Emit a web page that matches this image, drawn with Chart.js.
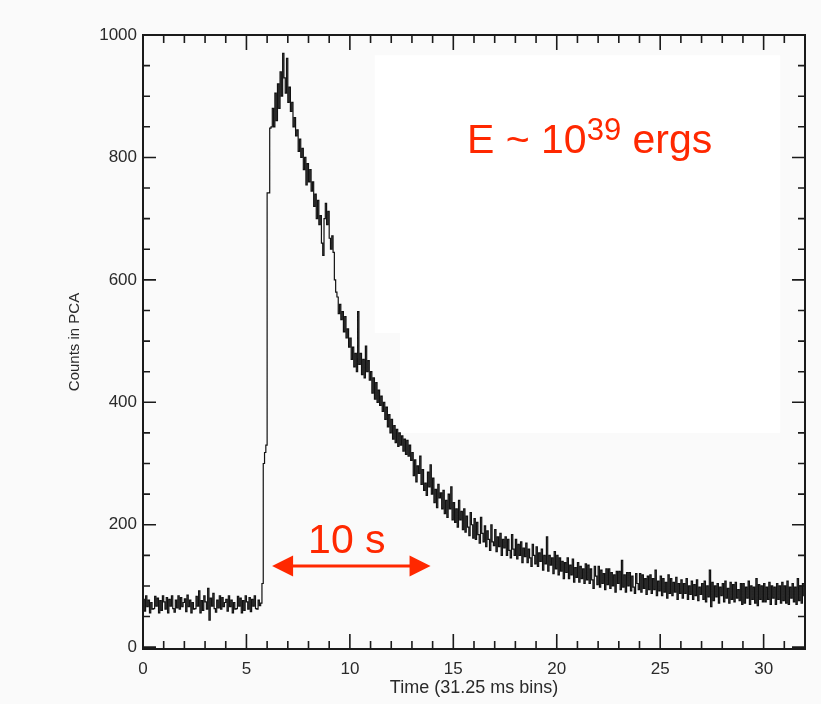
<!DOCTYPE html>
<html><head><meta charset="utf-8">
<style>
html,body{margin:0;padding:0;background:#fafafa;}
#wrap{width:821px;height:704px;position:relative;}
</style>
<script src="https://cdn.jsdelivr.net/npm/chart.js@4/dist/chart.umd.min.js"></script>
</head><body>
<div id="wrap"><canvas id="c" width="821" height="704"></canvas></div>
<script>
// bin width in seconds for the counts series
const binWidth = 0.0625;
const counts = [
  78, 59, 84, 66, 77, 56, 73, 62,
  63, 83, 67, 80, 56, 76, 60, 84,
  74, 62, 81, 56, 78, 67, 84, 63,
  57, 77, 64, 84, 62, 81, 66, 73,
  79, 58, 85, 66, 77, 56, 73, 62,
  63, 83, 67, 92, 56, 76, 60, 84,
  74, 62, 96, 44, 80, 67, 88, 63,
  57, 77, 64, 84, 62, 81, 66, 73,
  78, 59, 84, 66, 77, 56, 73, 62,
  63, 83, 67, 80, 56, 76, 60, 84,
  74, 62, 81, 58, 78, 67, 84, 63,
  62, 77, 68, 72, 104, 300, 318, 330,
  742, 742, 848, 850, 880, 850, 905, 860,
  920, 880, 940, 900, 970, 930, 905, 962,
  890, 915, 875, 890, 850, 865, 835, 845,
  810, 830, 800, 815, 780, 800, 755, 790,
  760, 780, 745, 760, 720, 740, 700, 730,
  690, 705, 660, 640, 700, 725, 690, 712,
  668, 650, 672, 645, 600, 580, 572, 545,
  560, 535, 548, 515, 540, 505, 520, 490,
  505, 470, 490, 458, 480, 450, 548, 462,
  480, 445, 470, 440, 492, 450, 468, 436,
  450, 415, 440, 405, 432, 400, 420, 395,
  410, 385, 400, 372, 392, 360, 380, 350,
  372, 340, 362, 334, 356, 328, 350, 330,
  345, 320, 340, 315, 338, 312, 330, 305,
  318, 280, 306, 270, 296, 284, 312, 266,
  290, 256, 268, 248, 286, 262, 298, 250,
  276, 236, 258, 228, 266, 244, 252, 226,
  256, 218, 240, 212, 250, 226, 262, 208,
  236, 204, 226, 196, 240, 208, 222, 192,
  226, 188, 214, 196, 182, 220, 200, 178,
  210, 176, 204, 184, 170, 212, 186, 172,
  198, 164, 190, 176, 158, 200, 172, 166,
  192, 156, 180, 164, 186, 150, 176, 162,
  180, 150, 176, 158, 146, 184, 160, 150,
  176, 144, 168, 150, 172, 138, 162, 148,
  170, 138, 160, 146, 132, 168, 150, 136,
  164, 132, 154, 140, 160, 126, 150, 136,
  180, 124, 150, 134, 146, 120, 156, 128,
  150, 118, 146, 124, 140, 112, 138, 122,
  146, 112, 134, 118, 144, 106, 130, 114,
  138, 106, 132, 112, 128, 104, 136, 110,
  134, 104, 128, 110, 96, 132, 116, 102,
  132, 98, 126, 104, 120, 94, 128, 102,
  128, 96, 122, 100, 118, 90, 124, 104,
  124, 94, 142, 98, 118, 90, 122, 100,
  122, 92, 116, 98, 88, 120, 104, 94,
  120, 90, 118, 96, 112, 86, 116, 94,
  118, 88, 112, 94, 126, 84, 108, 92,
  116, 84, 112, 90, 106, 80, 118, 88,
  112, 84, 106, 90, 114, 78, 104, 88,
  110, 80, 104, 88, 112, 78, 100, 86,
  108, 78, 102, 84, 110, 76, 98, 86,
  104, 78, 108, 74, 100, 82, 126, 66,
  106, 76, 100, 82, 104, 72, 98, 84,
  104, 74, 108, 80, 96, 72, 106, 78,
  102, 74, 106, 80, 94, 76, 104, 70,
  104, 72, 98, 80, 108, 70, 100, 78,
  98, 72, 112, 68, 102, 78, 100, 74,
  104, 74, 98, 78, 106, 70, 100, 80,
  98, 70, 104, 78, 100, 72, 106, 76,
  100, 72, 108, 70, 98, 80, 104, 74,
  98, 70, 112, 76, 100, 72, 104, 84
];
const xTickLabels = [0, 5, 10, 15, 20, 25, 30];
const yTickLabels = [0, 200, 400, 600, 800, 1000];
const xTitle = 'Time (31.25 ms bins)';
const yTitle = 'Counts in PCA';
const energyText = ['E ~ 10', '39', ' ergs'];
const durationText = '10 s';

// step points at bin start times + closing point at the end of the last bin
const points = counts.map((v, i) => ({x: i * binWidth, y: v}));
points.push({x: counts.length * binWidth, y: counts[counts.length - 1]});

const RED = 'rgb(255,40,0)';
const INK = '#1a1a1a';
const FONT = '"Liberation Sans", Arial, sans-serif';

const backdrop = {
  id: 'backdrop',
  beforeDraw(chart) {
    const {ctx, scales: {x, y}} = chart;
    ctx.save();
    ctx.fillStyle = '#fafafa';
    ctx.fillRect(0, 0, chart.width, chart.height);
    ctx.fillStyle = '#ffffff';
    const l1 = x.getPixelForValue(11.2), l2 = x.getPixelForValue(12.42), r = x.getPixelForValue(30.8);
    const t = y.getPixelForValue(967), m = y.getPixelForValue(513), b = y.getPixelForValue(350);
    ctx.fillRect(l1, t, r - l1, m - t);
    ctx.fillRect(l2, m - 1, r - l2, b - m + 1);
    ctx.restore();
  }
};

const frameTicks = {
  id: 'frameTicks',
  afterDatasetsDraw(chart) {
    const {ctx, chartArea: a, scales: {x, y}} = chart;
    ctx.save();
    ctx.strokeStyle = INK;
    ctx.lineWidth = 1.6;
    ctx.beginPath();
    for (let t = 0; t <= 32; t++) {
      const px = x.getPixelForValue(t);
      const L = t % 5 === 0 ? 15 : 8;
      ctx.moveTo(px, a.bottom); ctx.lineTo(px, a.bottom - L);
      ctx.moveTo(px, a.top); ctx.lineTo(px, a.top + L);
    }
    for (let v = 0; v <= 1000; v += 50) {
      const py = y.getPixelForValue(v);
      const L = v % 200 === 0 ? 13 : 7;
      ctx.moveTo(a.left, py); ctx.lineTo(a.left + L, py);
      ctx.moveTo(a.right, py); ctx.lineTo(a.right - L, py);
    }
    ctx.stroke();
    ctx.lineWidth = 2;
    ctx.strokeRect(a.left, a.top, a.right - a.left, a.bottom - a.top);
    ctx.restore();
  }
};

const annotations = {
  id: 'annotations',
  afterDraw(chart) {
    const {ctx, scales: {x, y}} = chart;
    ctx.save();
    ctx.fillStyle = RED;
    ctx.strokeStyle = RED;
    ctx.textBaseline = 'alphabetic';
    ctx.textAlign = 'left';
    let ex = x.getPixelForValue(15.66);
    const ey = y.getPixelForValue(807);
    ctx.font = '41px ' + FONT;
    ctx.fillText(energyText[0], ex, ey);
    ex += ctx.measureText(energyText[0]).width;
    ctx.font = '31px ' + FONT;
    ctx.fillText(energyText[1], ex, ey - 13);
    ex += ctx.measureText(energyText[1]).width;
    ctx.font = '41px ' + FONT;
    ctx.fillText(energyText[2], ex, ey);
    ctx.fillText(durationText, x.getPixelForValue(7.98), y.getPixelForValue(154));
    const ay = y.getPixelForValue(132.6);
    const x1 = x.getPixelForValue(6.24), x2 = x.getPixelForValue(13.9);
    const hl = 21, hw = 10.5;
    ctx.lineWidth = 3;
    ctx.beginPath();
    ctx.moveTo(x1 + hl - 2, ay); ctx.lineTo(x2 - hl + 2, ay);
    ctx.stroke();
    ctx.beginPath();
    ctx.moveTo(x1, ay); ctx.lineTo(x1 + hl, ay - hw); ctx.lineTo(x1 + hl, ay + hw); ctx.closePath();
    ctx.moveTo(x2, ay); ctx.lineTo(x2 - hl, ay - hw); ctx.lineTo(x2 - hl, ay + hw); ctx.closePath();
    ctx.fill();
    ctx.restore();
  }
};

new Chart(document.getElementById('c'), {
  type: 'line',
  data: {
    datasets: [{
      data: points,
      stepped: true,
      borderColor: '#111',
      borderWidth: 1.2,
      pointRadius: 0,
      fill: false
    }]
  },
  options: {
    responsive: false,
    animation: false,
    devicePixelRatio: 1,
    layout: {padding: {top: 35, right: 16, left: 0, bottom: 0}},
    plugins: {legend: {display: false}, tooltip: {enabled: false}},
    scales: {
      x: {
        type: 'linear', position: 'bottom', min: 0, max: 32,
        afterBuildTicks: s => { s.ticks = xTickLabels.map(v => ({value: v})); },
        afterFit: s => { s.height = 55; },
        grid: {display: false, drawTicks: false},
        border: {display: false},
        ticks: {padding: 10, color: '#2a2a2a', font: {family: FONT, size: 17}, maxRotation: 0, callback: v => String(v)},
        title: {display: true, text: xTitle, color: '#2a2a2a', font: {family: FONT, size: 18}, padding: {top: 0, bottom: 5}}
      },
      y: {
        type: 'linear', position: 'left', min: -3, max: 1000,
        afterBuildTicks: s => { s.ticks = yTickLabels.map(v => ({value: v})); },
        afterFit: s => { s.width = 143; },
        grid: {display: false, drawTicks: false},
        border: {display: false},
        ticks: {padding: 6, color: '#2a2a2a', font: {family: FONT, size: 17}, callback: v => String(v)},
        title: {display: true, text: yTitle, color: '#2a2a2a', font: {family: FONT, size: 15}, padding: {top: 66, bottom: 0}}
      }
    }
  },
  plugins: [backdrop, frameTicks, annotations]
});
</script>
</body></html>
